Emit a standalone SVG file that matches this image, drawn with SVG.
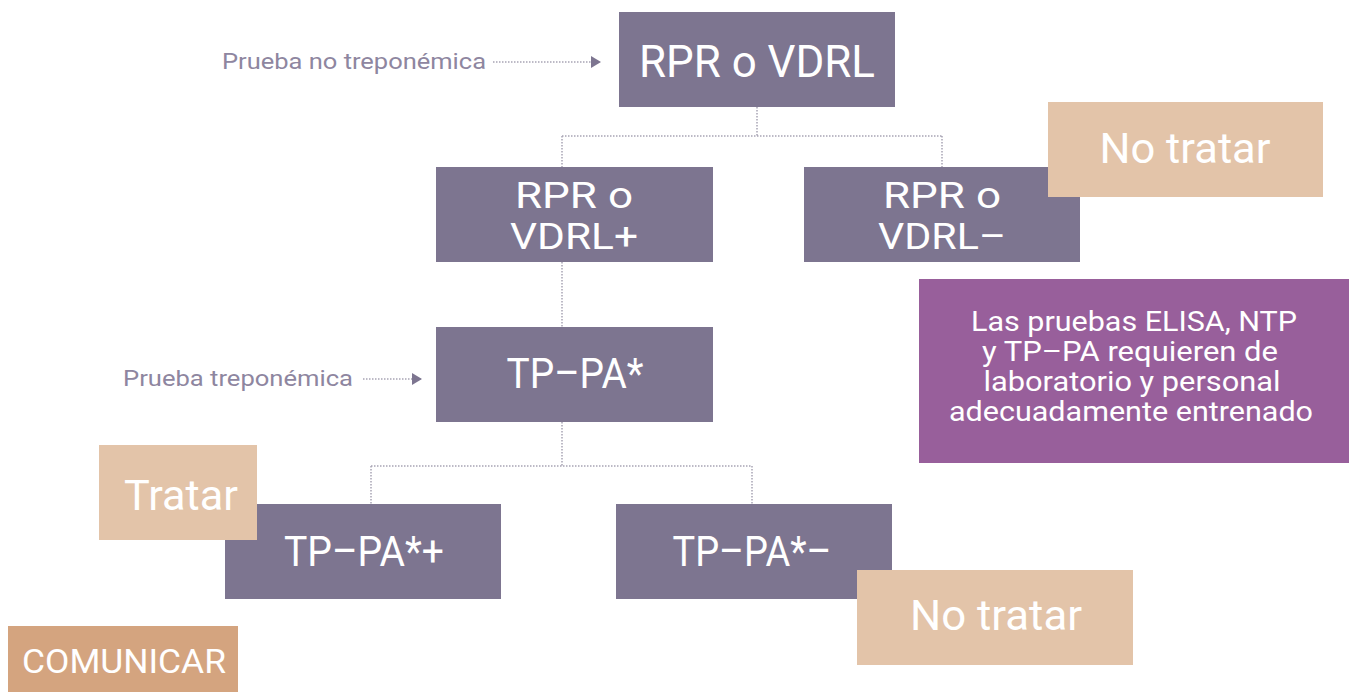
<svg xmlns="http://www.w3.org/2000/svg" width="1350" height="692" viewBox="0 0 1350 692">
<style>
.box{fill:#7d7590}
.tan{fill:#e3c4a9}
.com{fill:#d4a47f}
.note{fill:#985f9b}
.t{font-family:Roboto,"Liberation Sans",sans-serif;fill:#ffffff;text-anchor:middle}
.lbl{font-family:Roboto,"Liberation Sans",sans-serif;fill:#8e86a0;font-size:22px}
.con{stroke:#a8a4b4;stroke-width:1.5;stroke-dasharray:1.5 1.5;fill:none}
</style>
<defs>
<marker id="ah" markerWidth="10" markerHeight="12" refX="9" refY="6" orient="auto" markerUnits="userSpaceOnUse">
<path d="M0,0 L10,6 L0,12 Z" fill="#7d7590"/>
</marker>
</defs>
<g id="connectors">
<path class="con" d="M757,107 V136 M562,136 H942 M562,136 V167 M942,136 V167"/>
<path class="con" d="M562,262 V327"/>
<path class="con" d="M562,422 V466 M371,466 H752 M371,466 V504 M752,466 V504"/>
<path class="con" d="M493,62 H600" marker-end="url(#ah)"/>
<path class="con" d="M363,379 H421" marker-end="url(#ah)"/>
</g>
<g id="label-no-trep"><text class="lbl" x="222" y="69" textLength="264" lengthAdjust="spacingAndGlyphs">Prueba no treponémica</text></g>
<g id="label-trep"><text class="lbl" x="123" y="386" textLength="230" lengthAdjust="spacingAndGlyphs">Prueba treponémica</text></g>
<g id="n-rpr"><rect class="box" x="619" y="12" width="276" height="95"/><text class="t" x="757" y="77" font-size="45" textLength="236" lengthAdjust="spacingAndGlyphs">RPR o VDRL</text></g>
<g id="n-rpr-pos"><rect class="box" x="436" y="167" width="277" height="95"/><text class="t" x="574" y="208" font-size="37" textLength="118" lengthAdjust="spacingAndGlyphs">RPR o</text><text class="t" x="574" y="249" font-size="37" textLength="128" lengthAdjust="spacingAndGlyphs">VDRL+</text></g>
<g id="n-rpr-neg"><rect class="box" x="804" y="167" width="276" height="95"/><text class="t" x="942" y="208" font-size="37" textLength="118" lengthAdjust="spacingAndGlyphs">RPR o</text><text class="t" x="942" y="249" font-size="37" textLength="128" lengthAdjust="spacingAndGlyphs">VDRL–</text></g>
<g id="n-notratar1"><rect class="tan" x="1048" y="102" width="275" height="95"/><text class="t" x="1185" y="163" font-size="42" textLength="171" lengthAdjust="spacingAndGlyphs">No tratar</text></g>
<g id="n-note"><rect class="note" x="919" y="279" width="430" height="184"/><text class="t" font-size="28"><tspan x="1134" y="331" textLength="326" lengthAdjust="spacingAndGlyphs">Las pruebas ELISA, NTP</tspan><tspan x="1130" y="361" textLength="296" lengthAdjust="spacingAndGlyphs">y TP–PA requieren de</tspan><tspan x="1132" y="391" textLength="297" lengthAdjust="spacingAndGlyphs">laboratorio y personal</tspan><tspan x="1131" y="421" textLength="364" lengthAdjust="spacingAndGlyphs">adecuadamente entrenado</tspan></text></g>
<g id="n-tppa"><rect class="box" x="436" y="327" width="277" height="95"/><text class="t" x="575" y="388" font-size="43" textLength="137" lengthAdjust="spacingAndGlyphs">TP–PA*</text></g>
<g id="n-tppa-pos"><rect class="box" x="225" y="504" width="276" height="95"/><text class="t" x="364" y="566" font-size="43" textLength="160" lengthAdjust="spacingAndGlyphs">TP–PA*+</text></g>
<g id="n-tppa-neg"><rect class="box" x="616" y="504" width="276" height="95"/><text class="t" x="752" y="566" font-size="43" textLength="159" lengthAdjust="spacingAndGlyphs">TP–PA*–</text></g>
<g id="n-tratar"><rect class="tan" x="99" y="445" width="158" height="95"/><text class="t" x="181" y="510" font-size="42" textLength="114" lengthAdjust="spacingAndGlyphs">Tratar</text></g>
<g id="n-notratar2"><rect class="tan" x="857" y="570" width="276" height="95"/><text class="t" x="996" y="630" font-size="42" textLength="172" lengthAdjust="spacingAndGlyphs">No tratar</text></g>
<g id="n-comunicar"><rect class="com" x="8" y="626" width="230" height="66"/><text class="t" x="124" y="673" font-size="34" textLength="204" lengthAdjust="spacingAndGlyphs">COMUNICAR</text></g>
</svg>
